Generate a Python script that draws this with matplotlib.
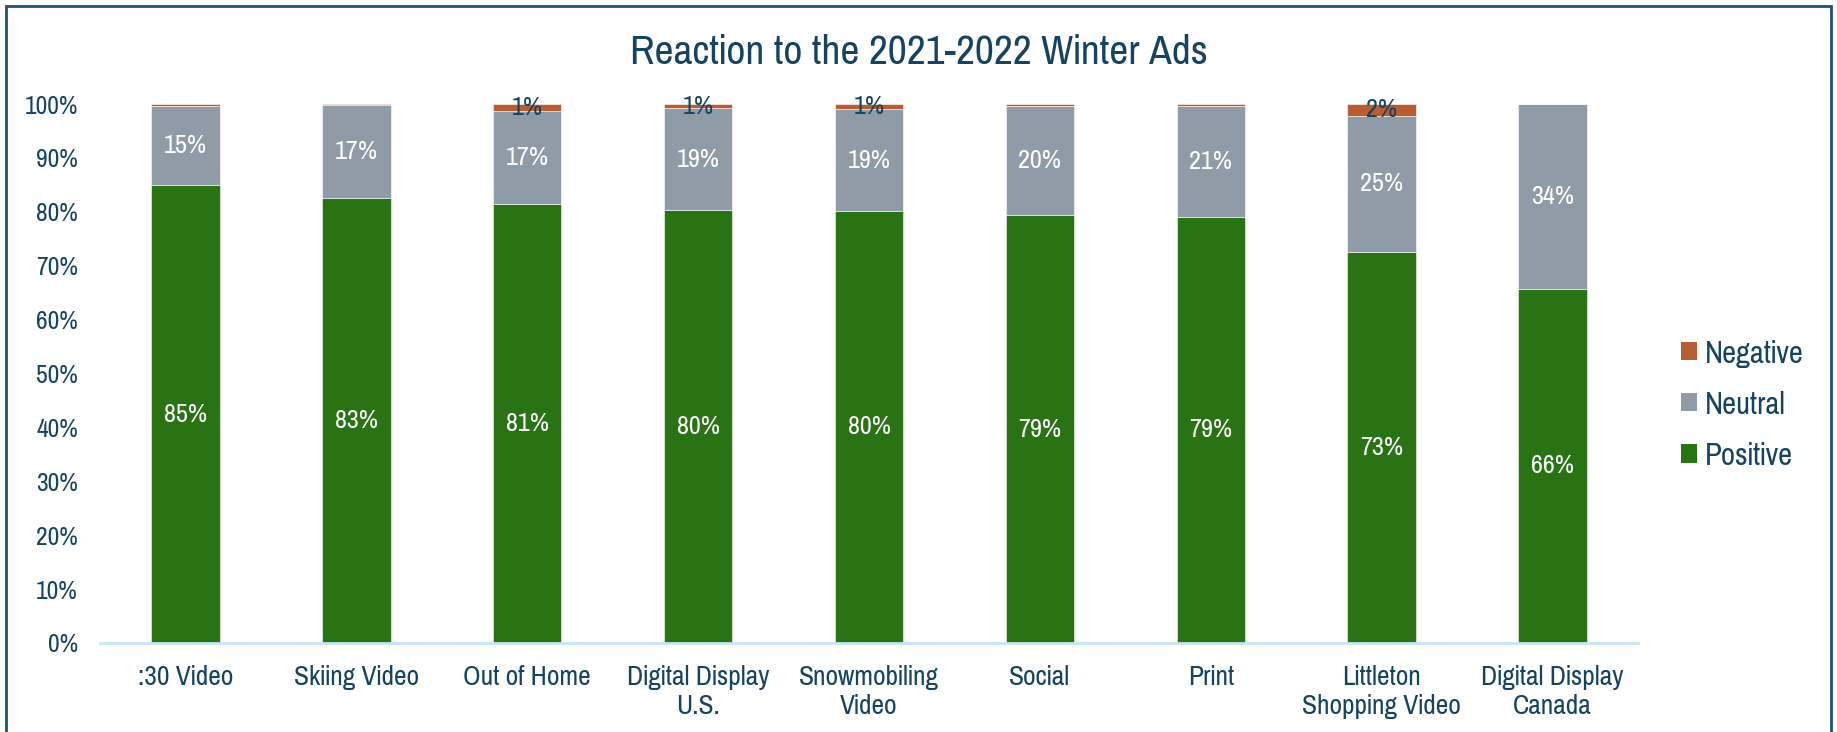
import matplotlib
matplotlib.use("Agg")
import matplotlib.pyplot as plt
from matplotlib.patches import Rectangle, Patch
from matplotlib.ticker import PercentFormatter

plt.rcParams['font.family'] = ['Pragati Narrow', 'Liberation Sans', 'DejaVu Sans']

categories = [":30 Video", "Skiing Video", "Out of Home", "Digital Display\nU.S.",
              "Snowmobiling\nVideo", "Social", "Print", "Littleton\nShopping Video",
              "Digital Display\nCanada"]
positive = [0.849, 0.826, 0.814, 0.803, 0.802, 0.794, 0.791, 0.726, 0.657]
neutral = [0.148, 0.172, 0.173, 0.189, 0.188, 0.203, 0.206, 0.252, 0.343]
negative = [0.003, 0.002, 0.013, 0.008, 0.010, 0.003, 0.003, 0.022, 0.000]

C_POS = "#2A7315"
C_NEU = "#8F9BA6"
C_NEG = "#B85C32"
C_TXT = "#154360"
C_AXIS = "#C5E6F5"

fig = plt.figure(figsize=(18.37, 7.32), dpi=100)
ax = fig.add_axes([100 / 1837, 89 / 732, 1538 / 1837, 539 / 732])

x = list(range(len(categories)))
w = 0.40
ax.bar(x, positive, w, color=C_POS, label="Positive", edgecolor="white", linewidth=0.4)
ax.bar(x, neutral, w, bottom=positive, color=C_NEU, label="Neutral",
       edgecolor="white", linewidth=0.4)
bottom_neg = [p + n for p, n in zip(positive, neutral)]
ax.bar(x, negative, w, bottom=bottom_neg, color=C_NEG, label="Negative",
       edgecolor="white", linewidth=0.4)

for i in x:
    ax.text(i, positive[i] / 2, f"{positive[i]:.0%}", ha="center", va="center",
            color="white", fontsize=20.5)
    ax.text(i, positive[i] + neutral[i] / 2, f"{neutral[i]:.0%}", ha="center",
            va="center", color="white", fontsize=20.5)
    if negative[i] >= 0.005:
        ax.text(i, bottom_neg[i] + negative[i] / 2, f"{negative[i]:.0%}",
                ha="center", va="center", color=C_TXT, fontsize=20.5)

ax.set_xlim(-0.5, 8.5)
ax.set_ylim(0, 1.0)
ax.set_yticks([i / 10 for i in range(11)])
ax.yaxis.set_major_formatter(PercentFormatter(1.0, decimals=0))
ax.set_xticks(x)
ax.set_xticklabels(categories)
ax.tick_params(axis="y", length=0, pad=16, labelsize=20, labelcolor=C_TXT)
ax.tick_params(axis="x", length=0, pad=16, labelsize=21.5, labelcolor=C_TXT)
for s in ("top", "right", "left"):
    ax.spines[s].set_visible(False)
ax.spines["bottom"].set_color(C_AXIS)
ax.spines["bottom"].set_linewidth(2)

fig.text(0.5, 1 - 52 / 732, "Reaction to the 2021-2022 Winter Ads", ha="center",
         va="center", fontsize=32.5, color=C_TXT)

handles = [Patch(facecolor=C_NEG), Patch(facecolor=C_NEU), Patch(facecolor=C_POS)]
fig.legend(handles, ["Negative", "Neutral", "Positive"], loc="center left",
           bbox_to_anchor=(1681 / 1837, 1 - 405 / 732), frameon=False,
           fontsize=24, labelcolor=C_TXT, handlelength=0.47, handleheight=0.47,
           handletextpad=0.24, labelspacing=0.7, borderpad=0, borderaxespad=0)

# frame around the whole figure (bottom edge runs off the canvas)
fig.patches.append(Rectangle((6 / 1837, -0.05), 1825 / 1837, 1.05 - 6 / 732,
                             transform=fig.transFigure, fill=False,
                             edgecolor="#1F5172", linewidth=2))

fig.savefig("out.png", dpi=100)
